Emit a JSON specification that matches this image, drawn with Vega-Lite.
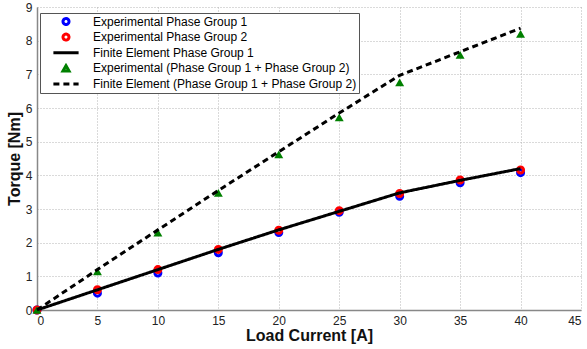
{
  "$schema": "https://vega.github.io/schema/vega-lite/v6.json",
  "width": 544,
  "height": 303,
  "autosize": {"type": "none"},
  "padding": {"left": 37, "top": 7, "right": 6, "bottom": 39},
  "background": "white",
  "config": {
    "view": {"stroke": null},
    "font": "Liberation Sans",
    "axis": {
      "labelFont": "Liberation Sans",
      "labelFontSize": 12,
      "labelColor": "#222",
      "titleFont": "Liberation Sans",
      "titleFontSize": 16,
      "titleFontWeight": "bold",
      "titleColor": "#111",
      "domainColor": "#888",
      "domainWidth": 1.5,
      "ticks": false,
      "labelPadding": 5,
      "grid": true,
      "gridColor": "#b5b5b5",
      "gridDash": [1, 2],
      "gridWidth": 1
    }
  },
  "data": {
    "values": [
      {"x": 0, "y": 0, "s": "Experimental Phase Group 1"},
      {"x": 5, "y": 0.5, "s": "Experimental Phase Group 1"},
      {"x": 10, "y": 1.1, "s": "Experimental Phase Group 1"},
      {"x": 15, "y": 1.7, "s": "Experimental Phase Group 1"},
      {"x": 20, "y": 2.3, "s": "Experimental Phase Group 1"},
      {"x": 25, "y": 2.9, "s": "Experimental Phase Group 1"},
      {"x": 30, "y": 3.38, "s": "Experimental Phase Group 1"},
      {"x": 35, "y": 3.78, "s": "Experimental Phase Group 1"},
      {"x": 40, "y": 4.08, "s": "Experimental Phase Group 1"},
      {"x": 0, "y": 0, "s": "Experimental Phase Group 2"},
      {"x": 5, "y": 0.6, "s": "Experimental Phase Group 2"},
      {"x": 10, "y": 1.2, "s": "Experimental Phase Group 2"},
      {"x": 15, "y": 1.8, "s": "Experimental Phase Group 2"},
      {"x": 20, "y": 2.37, "s": "Experimental Phase Group 2"},
      {"x": 25, "y": 2.95, "s": "Experimental Phase Group 2"},
      {"x": 30, "y": 3.46, "s": "Experimental Phase Group 2"},
      {"x": 35, "y": 3.86, "s": "Experimental Phase Group 2"},
      {"x": 40, "y": 4.16, "s": "Experimental Phase Group 2"},
      {"x": 0, "y": 0, "s": "Finite Element Phase Group 1"},
      {"x": 5, "y": 0.6, "s": "Finite Element Phase Group 1"},
      {"x": 10, "y": 1.2, "s": "Finite Element Phase Group 1"},
      {"x": 15, "y": 1.8, "s": "Finite Element Phase Group 1"},
      {"x": 20, "y": 2.38, "s": "Finite Element Phase Group 1"},
      {"x": 25, "y": 2.93, "s": "Finite Element Phase Group 1"},
      {"x": 30, "y": 3.48, "s": "Finite Element Phase Group 1"},
      {"x": 35, "y": 3.85, "s": "Finite Element Phase Group 1"},
      {"x": 40, "y": 4.2, "s": "Finite Element Phase Group 1"},
      {"x": 0, "y": 0, "s": "Experimental (Phase Group 1 + Phase Group 2)"},
      {"x": 5, "y": 1.15, "s": "Experimental (Phase Group 1 + Phase Group 2)"},
      {"x": 10, "y": 2.3, "s": "Experimental (Phase Group 1 + Phase Group 2)"},
      {"x": 15, "y": 3.48, "s": "Experimental (Phase Group 1 + Phase Group 2)"},
      {"x": 20, "y": 4.62, "s": "Experimental (Phase Group 1 + Phase Group 2)"},
      {"x": 25, "y": 5.72, "s": "Experimental (Phase Group 1 + Phase Group 2)"},
      {"x": 30, "y": 6.76, "s": "Experimental (Phase Group 1 + Phase Group 2)"},
      {"x": 35, "y": 7.58, "s": "Experimental (Phase Group 1 + Phase Group 2)"},
      {"x": 40, "y": 8.2, "s": "Experimental (Phase Group 1 + Phase Group 2)"},
      {"x": 0, "y": 0, "s": "Finite Element (Phase Group 1 + Phase Group 2)"},
      {"x": 5, "y": 1.2, "s": "Finite Element (Phase Group 1 + Phase Group 2)"},
      {"x": 10, "y": 2.38, "s": "Finite Element (Phase Group 1 + Phase Group 2)"},
      {"x": 15, "y": 3.55, "s": "Finite Element (Phase Group 1 + Phase Group 2)"},
      {"x": 20, "y": 4.7, "s": "Finite Element (Phase Group 1 + Phase Group 2)"},
      {"x": 25, "y": 5.85, "s": "Finite Element (Phase Group 1 + Phase Group 2)"},
      {"x": 30, "y": 6.97, "s": "Finite Element (Phase Group 1 + Phase Group 2)"},
      {"x": 35, "y": 7.67, "s": "Finite Element (Phase Group 1 + Phase Group 2)"},
      {"x": 40, "y": 8.37, "s": "Finite Element (Phase Group 1 + Phase Group 2)"}
    ]
  },
  "encoding": {
    "x": {"field": "x", "type": "quantitative", "title": "Load Current [A]", "scale": {"domain": [0, 45], "nice": false}, "axis": {"values": [0,5,10,15,20,25,30,35,40,45], "titlePadding": 1}},
    "y": {"field": "y", "type": "quantitative", "title": "Torque [Nm]", "scale": {"domain": [0, 9], "nice": false}, "axis": {"values": [0,1,2,3,4,5,6,7,8,9], "titlePadding": 3}},
    "color": {
      "field": "s", "type": "nominal",
      "scale": {
        "domain": ["Experimental Phase Group 1", "Experimental Phase Group 2", "Finite Element Phase Group 1", "Experimental (Phase Group 1 + Phase Group 2)", "Finite Element (Phase Group 1 + Phase Group 2)"],
        "range": ["#0000ff", "#ff0000", "#000000", "#008000", "#000000"]
      },
      "legend": {
        "orient": "none", "legendX": 3, "legendY": 6, "title": null,
        "strokeColor": "#555", "fillColor": "white", "padding": 2,
        "labelFont": "Liberation Sans", "labelFontSize": 12, "labelColor": "#000", "labelLimit": 400,
        "symbolFillColor": "transparent", "symbolOpacity": 1,
        "symbolOffset": 18, "labelOffset": 21, "rowPadding": 2.6, "clipHeight": 13
      }
    },
    "strokeWidth": {
      "field": "s", "type": "ordinal",
      "scale": {
        "domain": ["Experimental Phase Group 1", "Experimental Phase Group 2", "Finite Element Phase Group 1", "Experimental (Phase Group 1 + Phase Group 2)", "Finite Element (Phase Group 1 + Phase Group 2)"],
        "range": [3, 3, 2, 3, 2]
      }
    }
  },
  "layer": [
    {
      "transform": [{"filter": "datum.s === 'Experimental Phase Group 1' || datum.s === 'Experimental Phase Group 2'"}],
      "mark": {"type": "point", "filled": false, "opacity": 1},
      "encoding": {
        "shape": {"field": "s", "type": "nominal", "scale": {"domain": ["Experimental Phase Group 1", "Experimental Phase Group 2", "Finite Element Phase Group 1", "Experimental (Phase Group 1 + Phase Group 2)", "Finite Element (Phase Group 1 + Phase Group 2)"], "range": ["circle", "circle", "M-4.2,0H4.2", "triangle-up", "M-4.2,0H4.2"]}},
        "size": {"field": "s", "type": "ordinal", "scale": {"domain": ["Experimental Phase Group 1", "Experimental Phase Group 2", "Finite Element Phase Group 1", "Experimental (Phase Group 1 + Phase Group 2)", "Finite Element (Phase Group 1 + Phase Group 2)"], "range": [36, 36, 144, 40, 144]}}
      }
    },
    {
      "transform": [{"filter": "datum.s === 'Finite Element Phase Group 1'"}],
      "mark": {"type": "line"},
      "encoding": {
        "strokeDash": {"field": "s", "type": "nominal", "scale": {"domain": ["Experimental Phase Group 1", "Experimental Phase Group 2", "Finite Element Phase Group 1", "Experimental (Phase Group 1 + Phase Group 2)", "Finite Element (Phase Group 1 + Phase Group 2)"], "range": [[1, 0], [1, 0], [1, 0], [1, 0], [6, 4]]}}
      }
    },
    {
      "transform": [{"filter": "datum.s === 'Experimental (Phase Group 1 + Phase Group 2)'"}],
      "mark": {"type": "point", "filled": false, "opacity": 0},
      "encoding": {
        "shape": {"field": "s", "type": "nominal"},
        "size": {"field": "s", "type": "ordinal"}
      }
    },
    {
      "transform": [{"filter": "datum.s === 'Experimental (Phase Group 1 + Phase Group 2)'"}],
      "mark": {"type": "point", "filled": true, "opacity": 1, "shape": "triangle-up", "size": 80},
      "encoding": {
        "color": {"value": "#008000"},
        "strokeWidth": {"value": 0}
      }
    },
    {
      "transform": [{"filter": "datum.s === 'Finite Element (Phase Group 1 + Phase Group 2)'"}],
      "mark": {"type": "line"},
      "encoding": {
        "strokeDash": {"field": "s", "type": "nominal"}
      }
    }
  ]
}
